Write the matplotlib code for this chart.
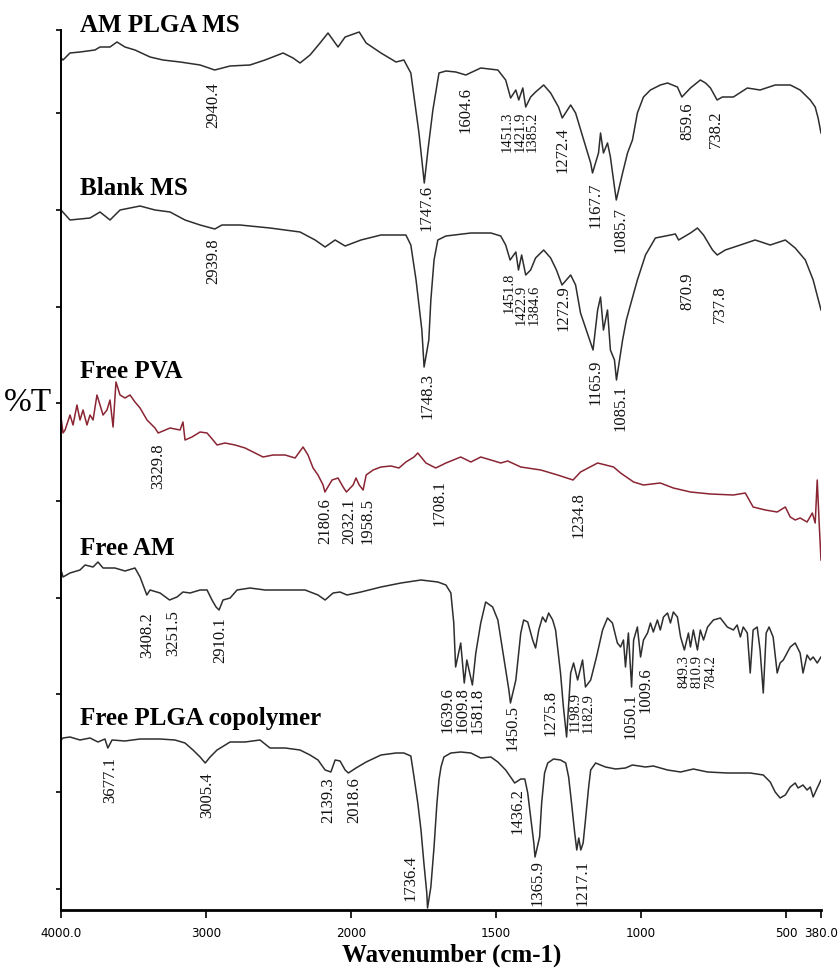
import matplotlib
matplotlib.use("Agg")
import matplotlib.pyplot as plt
import numpy as np
from matplotlib.scale import FuncScale
from matplotlib.ticker import FixedLocator, FixedFormatter

# ---------------------------------------------------------------- data
# wavenumber (cm-1) and transmittance in stacked (offset) plot units
am_plga_wn = [4000, 3986, 3938, 3869, 3766, 3731, 3662, 3614, 3559, 3490, 3386, 3297, 3179, 3041,
              2940, 2834, 2697, 2593, 2469, 2400, 2352, 2283, 2214, 2159, 2090, 2041, 1972, 1948,
              1897, 1845, 1818, 1794, 1766, 1747.6, 1735, 1718, 1697, 1673, 1639, 1604.6, 1553,
              1494, 1467, 1450, 1432, 1422, 1408, 1398, 1381, 1364, 1336, 1312, 1285, 1272, 1243,
              1226, 1198, 1174, 1167.7, 1147, 1140, 1130, 1116, 1106, 1092, 1085.7, 1064, 1047,
              1030, 1013, 992, 968, 934, 909, 875, 859.6, 830, 796, 778, 761, 738.2, 720, 682,
              634, 590, 538, 486, 452, 417, 400, 390, 380]
am_plga_t = [852, 850, 857, 858, 860, 863, 863, 868, 863, 860, 853, 850, 848, 845,
             840, 844, 845, 850, 857, 852, 847, 855, 867, 877, 863, 873, 878, 867,
             857, 848, 850, 837, 777, 727, 760, 800, 837, 839, 838, 835, 842,
             840, 830, 812, 820, 810, 822, 803, 813, 818, 825, 817, 803, 792, 805,
             797, 770, 747, 737, 757, 777, 757, 767, 753, 723, 710, 737, 757,
             770, 797, 813, 820, 825, 827, 823, 813, 822, 830, 827, 822, 810, 813, 813,
             822, 820, 825, 825, 820, 810, 803, 792, 777]

blank_wn = [4000, 3938, 3800, 3731, 3662, 3593, 3524, 3455, 3352, 3248, 3145, 3041, 2939.8,
            2890, 2766, 2559, 2352, 2248, 2179, 2110, 2041, 1966, 1897, 1811, 1794, 1776,
            1756, 1748.3, 1732, 1725, 1714, 1701, 1673, 1587, 1518, 1484, 1467, 1451.8,
            1432, 1422.9, 1412, 1398, 1381, 1364, 1336, 1312, 1292, 1272.9, 1243, 1226,
            1209, 1174, 1165.9, 1150, 1140, 1130, 1116, 1106, 1092, 1085.1, 1064, 1051,
            1037, 1013, 985, 951, 916, 882, 870.9, 830, 806, 785, 754, 737.8, 710, 658,
            607, 555, 503, 469, 434, 407, 380]
blank_t = [700, 690, 692, 698, 690, 700, 702, 704, 700, 698, 690, 685, 681,
           685, 685, 682, 678, 670, 663, 670, 664, 670, 675, 675, 665, 630,
           580, 543, 570, 610, 650, 670, 674, 677, 677, 674, 665, 650,
           658, 640, 655, 635, 640, 652, 660, 652, 640, 625, 635, 625,
           597, 567, 560, 600, 613, 580, 600, 560, 550, 530, 570, 590,
           605, 630, 655, 672, 674, 676, 670, 677, 682, 675, 660, 655, 660, 665,
           670, 665, 670, 662, 650, 630, 600]

pva_wn = [4000, 3986, 3972, 3938, 3917, 3890, 3869, 3848, 3821, 3800, 3779, 3752, 3731, 3710,
          3683, 3662, 3641, 3621, 3593, 3559, 3524, 3490, 3455, 3407, 3352, 3329.8, 3248,
          3179, 3159, 3145, 3097, 3041, 2993, 2952, 2924, 2869, 2800, 2731, 2676, 2607,
          2538, 2455, 2386, 2331, 2297, 2262, 2228, 2193, 2180.6, 2131, 2090, 2055, 2032.1,
          1993, 1983, 1972, 1958.5, 1948, 1924, 1897, 1862, 1835, 1811, 1783, 1770, 1742,
          1708.1, 1673, 1622, 1587, 1553, 1518, 1484, 1460, 1415, 1346, 1288, 1234.8, 1209,
          1150, 1095, 1071, 1026, 992, 934, 889, 830, 761, 682, 641, 614, 572, 531, 503,
          486, 469, 452, 428, 410, 400, 393, 386, 380]
pva_t = [493, 477, 480, 495, 485, 505, 490, 500, 485, 495, 490, 515, 505, 495,
         500, 510, 483, 528, 515, 512, 515, 508, 502, 490, 482, 477, 482,
         480, 488, 470, 473, 478, 477, 470, 465, 467, 465, 462, 458, 453,
         455, 455, 452, 463, 455, 442, 435, 425, 418, 430, 432, 423, 418,
         425, 432, 425, 420, 435, 440, 443, 444, 442, 448, 453, 457, 447,
         442, 447, 453, 448, 453, 450, 447, 449, 443, 440, 435, 430, 438,
         447, 443, 437, 428, 425, 427, 422, 418, 416, 415, 417, 403, 400, 398, 403,
         393, 390, 392, 388, 397, 387, 430, 385, 350]

am_wn = [4000, 3986, 3938, 3869, 3834, 3779, 3745, 3710, 3628, 3559, 3490, 3455, 3408.2, 3386,
         3317, 3251.5, 3200, 3159, 3110, 3041, 2993, 2959, 2931, 2910.1, 2883, 2834, 2786,
         2697, 2593, 2421, 2317, 2228, 2179, 2124, 2076, 2028, 1966, 1897, 1828, 1759, 1701,
         1673, 1656, 1646, 1639.6, 1622, 1609.8, 1601, 1581.8, 1570, 1553, 1536, 1512, 1494,
         1474, 1456, 1450.5, 1432, 1415, 1405, 1391, 1374, 1364, 1353, 1340, 1329, 1319,
         1305, 1295, 1278, 1268, 1257, 1243, 1233, 1219, 1202, 1192, 1174, 1154, 1133, 1116,
         1099, 1082, 1071, 1061, 1054, 1044, 1033, 1026, 1013, 1002, 992, 978, 968, 958, 944,
         934, 923, 909, 899, 889, 875, 864, 851, 837, 830, 820, 806, 796, 785, 771, 751, 727,
         703, 682, 669, 658, 648, 634, 624, 614, 600, 590, 579, 569, 559, 545, 531, 521, 510,
         486, 469, 452, 442, 428, 417, 407, 393, 380]
am_t = [340, 333, 337, 340, 345, 343, 348, 342, 342, 339, 342, 333, 315, 320,
        317, 310, 313, 318, 317, 320, 320, 310, 303, 300, 310, 312, 320,
        322, 320, 320, 320, 315, 310, 317, 318, 315, 318, 323, 327, 330, 328,
        325, 317, 287, 243, 267, 227, 250, 225, 257, 287, 308, 303, 290,
        253, 220, 207, 230, 277, 290, 288, 270, 262, 280, 293, 288, 297,
        290, 280, 237, 203, 173, 237, 247, 230, 250, 223, 230, 253, 280, 292,
        287, 267, 263, 270, 243, 277, 223, 270, 283, 253, 270, 277, 287, 278, 290,
        280, 293, 297, 287, 298, 293, 273, 260, 277, 263, 280, 260, 280, 270, 283, 290, 292,
        283, 280, 285, 273, 283, 277, 237, 280, 283, 260, 217, 277, 283, 273, 237, 247, 250,
        263, 267, 257, 237, 255, 250, 253, 247, 253]

plga_wn = [4000, 3986, 3938, 3869, 3800, 3745, 3697, 3677.1, 3648, 3559, 3455, 3317, 3214, 3145,
           3090, 3041, 3005.4, 2972, 2924, 2834, 2731, 2628, 2559, 2455, 2352, 2283, 2228,
           2179, 2139.3, 2110, 2076, 2041, 2018.6, 1983, 1948, 1897, 1845, 1818, 1794, 1783,
           1770, 1759, 1749, 1739, 1736.4, 1725, 1714, 1704, 1697, 1690, 1680, 1656, 1622,
           1587, 1553, 1518, 1494, 1467, 1443, 1436.2, 1415, 1401, 1391, 1381, 1370, 1365.9,
           1350, 1343, 1333, 1322, 1302, 1278, 1260, 1250, 1240, 1229, 1222, 1215, 1208, 1200,
           1192, 1181, 1174, 1157, 1123, 1088, 1054, 1030, 985, 958, 909, 864, 820, 771, 703,
           624, 579, 555, 538, 521, 503, 486, 469, 459, 442, 428, 417, 407, 393, 380]
plga_t = [170, 172, 173, 170, 172, 168, 171, 162, 170, 169, 171, 171, 170, 167,
          160, 153, 147, 153, 160, 168, 168, 170, 162, 162, 160, 155, 150,
          140, 138, 150, 149, 140, 137, 142, 148, 155, 157, 157, 154, 133,
          107, 80, 47, 17, 2, 23, 63, 107, 130, 143, 153, 157, 158,
          157, 152, 153, 148, 140, 130, 127, 131, 131, 117, 93, 67, 53,
          73, 107, 137, 147, 151, 150, 147, 133, 107, 77, 60, 72, 60, 67,
          90, 123, 140, 147, 143, 141, 142, 145, 143, 144, 140, 138, 141, 138, 137,
          137, 135, 128, 118, 112, 115, 123, 127, 122, 125, 120, 123, 113, 122, 130]

am_plga_peaks = ["2940.4", "1747.6", "1604.6", "1451.3", "1421.9", "1385.2", "1272.4",
                 "1167.7", "1085.7", "859.6", "738.2"]
blank_peaks = ["2939.8", "1748.3", "1451.8", "1422.9", "1384.6", "1272.9", "1165.9",
               "1085.1", "870.9", "737.8"]
pva_peaks = ["3329.8", "2180.6", "2032.1", "1958.5", "1708.1", "1234.8"]
am_peaks = ["3408.2", "3251.5", "2910.1", "1639.6", "1609.8", "1581.8", "1450.5", "1275.8",
            "1198.9", "1182.9", "1050.1", "1009.6", "849.3", "810.9", "784.2"]
plga_peaks = ["3677.1", "3005.4", "2139.3", "2018.6", "1736.4", "1436.2", "1365.9", "1217.1"]

x_ticks = [4000, 3000, 2000, 1500, 1000, 500, 380]
x_ticklabels = ["4000.0", "3000", "2000", "1500", "1000", "500", "380.0"]

# ---------------------------------------------------------------- layout
# label anchor (x in cm-1, top of text in plot units)
peak_pos = {
    "am_plga": ([2952, 1739, 1604, 1463, 1418, 1377, 1271, 1157, 1071, 841, 741],
                [828, 725, 823, 798, 798, 798, 783, 728, 703, 808, 800]),
    "blank": ([2952, 1735, 1456, 1412, 1367, 1268, 1157, 1071, 841, 727],
              [672, 537, 637, 625, 625, 625, 550, 525, 637, 625]),
    "pva": ([3331, 2179, 2014, 1942, 1694, 1216],
            [467, 412, 412, 412, 430, 418]),
    "am": ([3407, 3228, 2903, 1666, 1615, 1563, 1443, 1312, 1226, 1181, 1037, 985, 851, 806, 761],
           [298, 300, 293, 223, 223, 222, 205, 220, 218, 217, 217, 243, 255, 255, 255]),
    "plga": ([3662, 2993, 2159, 1990, 1794, 1426, 1357, 1202],
             [153, 138, 133, 133, 55, 122, 50, 50]),
}
# tightly packed labels are set a little smaller
small_labels = {"1451.3", "1421.9", "1385.2", "1451.8", "1422.9", "1384.6",
                "1198.9", "1182.9", "849.3", "810.9", "784.2"}

SERIF = "Liberation Serif"
DARK = "#2e2e2e"
PVA_RED = "#8a2533"


def fwd(x):
    x = np.asarray(x, dtype=float)
    return np.where(x >= 2000, x, 2 * x - 2000)


def inv(u):
    u = np.asarray(u, dtype=float)
    return np.where(u >= 2000, u, (u + 2000) / 2)


fig = plt.figure(figsize=(8.38, 9.69), dpi=100)
ax = fig.add_axes([61 / 838, 59 / 969, 760 / 838, 880 / 969])
ax.set_xscale(FuncScale(ax, (fwd, inv)))
ax.set_xlim(4000, 380)
ax.set_ylim(0, 880)

series = [
    ("am_plga", am_plga_wn, am_plga_t, am_plga_peaks, DARK, "AM PLGA MS", 878),
    ("blank", blank_wn, blank_t, blank_peaks, DARK, "Blank MS", 715),
    ("pva", pva_wn, pva_t, pva_peaks, PVA_RED, "Free PVA", 532),
    ("am", am_wn, am_t, am_peaks, DARK, "Free AM", 355),
    ("plga", plga_wn, plga_t, plga_peaks, DARK, "Free PLGA copolymer", 185),
]

for key, wn, t, peaks, col, name, name_y in series:
    ax.plot(wn, t, color=col, lw=1.1, solid_joinstyle="round")
    px, py = peak_pos[key]
    for lab, lx, ly in zip(peaks, px, py):
        fs = 10.5 if lab in small_labels else 12
        ax.text(lx, ly, lab, rotation=90, ha="center", va="top",
                fontsize=fs, family=SERIF, color="#111111")
    ax.text(3870, name_y, name, fontsize=18, fontweight="bold", family=SERIF,
            va="baseline", ha="left", clip_on=False)

for s in ("top", "right"):
    ax.spines[s].set_visible(False)
ax.spines["left"].set_linewidth(1.4)
ax.spines["bottom"].set_linewidth(2.0)

ax.xaxis.set_major_locator(FixedLocator(x_ticks))
ax.xaxis.set_major_formatter(FixedFormatter(x_ticklabels))
ax.xaxis.set_minor_locator(FixedLocator([]))
ax.tick_params(axis="x", direction="out", length=6, width=1.2, pad=6, labelsize=9.5)
for tl in ax.get_xticklabels():
    tl.set_fontstretch("condensed")
    tl.set_family("DejaVu Sans")

ax.set_yticks([21, 118, 216, 312, 409, 507, 603, 700, 797, 880])
ax.set_yticklabels([])
ax.tick_params(axis="y", direction="out", length=3.5, width=1.2)

fig.text(28 / 838, 1 - 403 / 969, "%T", fontsize=24, family=SERIF,
         ha="center", va="center")
fig.text(452 / 838, 1 - 962 / 969, "Wavenumber (cm-1)", fontsize=18,
         fontweight="bold", family=SERIF, ha="center", va="baseline")

fig.savefig("out.png", dpi=100)
